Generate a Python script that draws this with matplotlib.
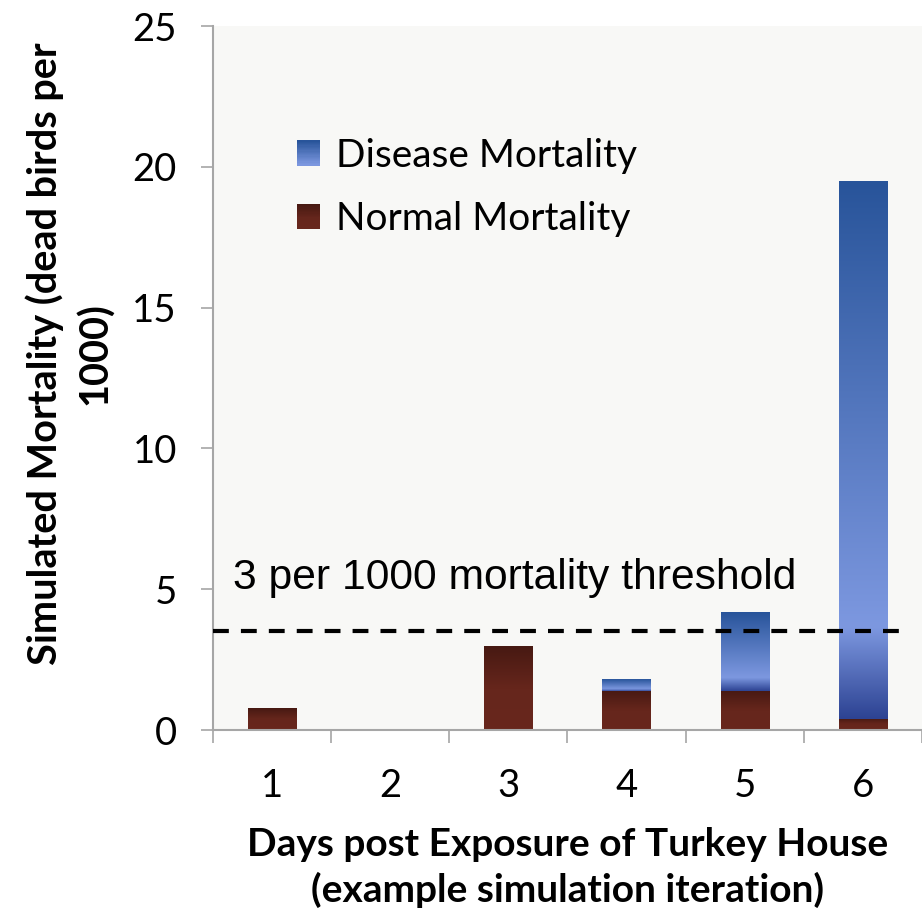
import numpy as np
import matplotlib
matplotlib.use('Agg')
import matplotlib.pyplot as plt
from matplotlib.colors import LinearSegmentedColormap
from matplotlib.legend_handler import HandlerBase
from matplotlib.patches import Rectangle

days = ['1', '2', '3', '4', '5', '6']
normal = [0.75, 0.0, 2.95, 1.4, 1.4, 0.4]
disease = [0.0, 0.0, 0.0, 0.4, 2.8, 19.1]
threshold = 3.5

# gradients, listed top of bar -> bottom of bar
blue_grad = LinearSegmentedColormap.from_list(
    'blue', [(0, '#28549a'), (0.83, '#7d98e0'), (1, '#2d4393')])
red_grad = LinearSegmentedColormap.from_list(
    'red', [(0, '#471912'), (0.5, '#66261c'), (1, '#68271d')])

body = 'Lato'


def shade(ax, patches, cmap):
    grad = np.linspace(0, 1, 256).reshape(-1, 1)
    for p in patches:
        if p.get_height() <= 0:
            continue
        x0, y0 = p.get_x(), p.get_y()
        ax.imshow(grad, cmap=cmap, aspect='auto', interpolation='bicubic',
                  extent=[x0, x0 + p.get_width(), y0, y0 + p.get_height()],
                  origin='upper', zorder=2)


class GradHandler(HandlerBase):
    def __init__(self, cmap):
        super().__init__()
        self.cmap = cmap

    def create_artists(self, legend, orig_handle, xdescent, ydescent,
                       width, height, fontsize, trans):
        n = 20
        out = []
        for i in range(n):
            r = Rectangle((-xdescent, -ydescent + height * (n - 1 - i) / n),
                          width, height / n + 0.3,
                          facecolor=self.cmap(i / (n - 1) * 0.83),
                          edgecolor='none', transform=trans)
            out.append(r)
        return out


fig = plt.figure(figsize=(9.22, 9.13), dpi=100)
ax = fig.add_axes([0.231, 0.2004, 0.769, 0.7711])
ax.set_facecolor('#f8f8f6')

x = np.arange(len(days))
b1 = ax.bar(x, normal, width=0.41, color='none', zorder=2)
b2 = ax.bar(x, disease, width=0.41, bottom=normal, color='none', zorder=2)
shade(ax, b1, red_grad)
shade(ax, b2, blue_grad)

ax.hlines(threshold, -0.5, 5.35, colors='black', linewidth=3,
          linestyles=(0, (3.8, 2.9)), zorder=3)
ax.text(-0.33, threshold + 1.9, '3 per 1000 mortality threshold',
        fontsize=30.7, family='Liberation Sans', va='center', ha='left')

ax.set_xlim(-0.5, 5.5)
ax.set_ylim(0, 25)
ax.set_yticks([0, 5, 10, 15, 20, 25])
ax.set_xticks(x)
ax.set_xticklabels(days)
ax.set_xticks(np.arange(-0.5, 6, 1), minor=True)

for s in ['top', 'right']:
    ax.spines[s].set_visible(False)
for s in ['left', 'bottom']:
    ax.spines[s].set_color('#a6a6a6')
    ax.spines[s].set_linewidth(1.5)

ax.tick_params(axis='y', length=9, width=1.2, color='#a6a6a6',
               labelsize=27.5, pad=17)
ax.tick_params(axis='x', which='major', length=0, labelsize=27.5, pad=27)
ax.tick_params(axis='x', which='minor', length=9, width=1.2,
               color='#a6a6a6')
for lab in ax.get_xticklabels() + ax.get_yticklabels():
    lab.set_family(body)

ax.set_xlabel('Days post Exposure of Turkey House\n(example simulation iteration)',
              fontsize=28, fontweight='bold', family=body, labelpad=17,
              linespacing=1.33)
ax.set_ylabel('Simulated Mortality (dead birds per\n1000)', fontsize=28.5,
              fontweight='bold', family=body, linespacing=1.38)
ax.yaxis.set_label_coords(-0.14, 0.535)

h1 = Rectangle((0, 0), 1, 1)
h2 = Rectangle((0, 0), 1, 1)
ax.legend([h1, h2], ['Disease Mortality', 'Normal Mortality'],
          handler_map={h1: GradHandler(blue_grad), h2: GradHandler(red_grad)},
          loc='upper left', bbox_to_anchor=(0.118, 0.841), frameon=False,
          prop={'family': body, 'size': 28}, handlelength=0.6,
          handleheight=0.6, handletextpad=0.4, labelspacing=0.7,
          borderpad=0, borderaxespad=0)

fig.savefig('out.png', dpi=100)
